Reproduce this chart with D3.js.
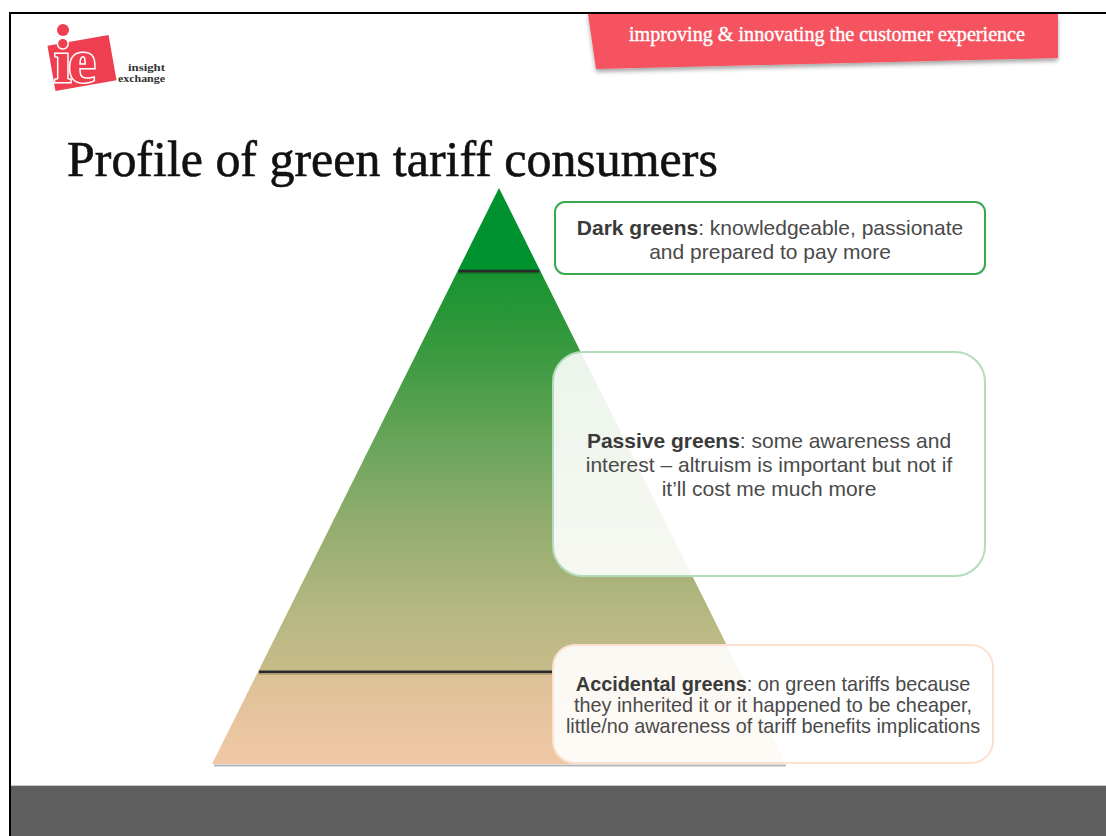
<!DOCTYPE html>
<html>
<head>
<meta charset="utf-8">
<script src="https://cdn.jsdelivr.net/npm/d3@7"></script>
<style>
  html, body { margin: 0; padding: 0; background: #fff; }
  svg { display: block; }
  .desc { fill: #4a4a4a; }
  .desc .lbl { font-weight: bold; fill: #3a3a3a; }
</style>
</head>
<body>
<svg id="slide" width="1106" height="836"></svg>
<script>
// tiers from the top of the pyramid down
const tiers = ["Dark greens", "Passive greens", "Accidental greens"];
const tierBounds = [0, 0.144, 0.84, 1];
const descLines = [
  [": knowledgeable, passionate", "and prepared to pay more"],
  [": some awareness and", "interest \u2013 altruism is important but not if", "it\u2019ll cost me much more"],
  [": on green tariffs because", "they inherited it or it happened to be cheaper,", "little/no awareness of tariff benefits implications"]
];
const gradStops = [
  [0, "#00922e"], [0.144, "#00922e"], [0.146, "#17932f"], [0.3, "#3e9b41"], [0.45, "#6ba55b"],
  [0.6, "#97ae70"], [0.75, "#b8b883"], [0.838, "#c7bc89"], [0.845, "#dcc196"], [1, "#f1c8a6"]
];
const title = "Profile of green tariff consumers";
const tagline = "improving & innovating the customer experience";

const svg = d3.select("#slide");
const defs = svg.append("defs");
const SANS = "'Liberation Sans', Arial, sans-serif", SERIF = "'Liberation Serif', Georgia, serif";

// fit a text node to a given width by changing its font size
const fitWidth = (sel, w) => {
  const fs = parseFloat(sel.attr("font-size"));
  sel.attr("font-size", fs * w / sel.node().getComputedTextLength());
};

// frame + footer
svg.append("rect").attr("x", 11).attr("y", 786).attr("width", 1095).attr("height", 50).attr("fill", "#5e5e5e");
svg.append("line").attr("x1", 11).attr("x2", 1106).attr("y1", 785.5).attr("y2", 785.5).attr("stroke", "#c8c8c8");
svg.append("path").attr("d", "M10,836V13H1106").attr("fill", "none").attr("stroke", "#000").attr("stroke-width", 2);

// banner
const shadow = defs.append("filter").attr("id", "bshadow").attr("x", "-5%").attr("y", "-30%").attr("width", "110%").attr("height", "170%");
shadow.append("feDropShadow").attr("dx", 0).attr("dy", 3).attr("stdDeviation", 2).attr("flood-color", "#000").attr("flood-opacity", 0.35);
svg.append("path").attr("d", "M588,14H1058V58L596,69Z").attr("fill", "#f5525e").attr("filter", "url(#bshadow)");
const tag = svg.append("text").attr("x", 827).attr("y", 41).attr("text-anchor", "middle").attr("fill", "#fff")
  .attr("stroke", "#fff").attr("stroke-width", 0.4).attr("font-family", SERIF).attr("font-size", 16).text(tagline);
fitWidth(tag, 396);

// logo
const logo = svg.append("g").attr("transform", "translate(48,24)");
logo.append("rect").attr("x", 3).attr("y", 16).attr("width", 62).attr("height", 46).attr("fill", "#ef3e4f")
  .attr("transform", "rotate(-10,34,39)");
logo.append("text").attr("x", 6).attr("y", 58).attr("font-family", SERIF).attr("font-weight", "bold")
  .attr("font-size", 62).attr("fill", "#ef3e4f").attr("stroke", "#fff").attr("stroke-width", 3).attr("paint-order", "stroke")
  .attr("letter-spacing", -3).text("ie");
logo.append("circle").attr("cx", 15).attr("cy", 6).attr("r", 6).attr("fill", "#ef3e4f");
logo.append("text").attr("x", 80).attr("y", 47).attr("font-family", SERIF).attr("font-size", 10)
  .attr("font-weight", "bold").attr("fill", "#333").attr("textLength", 37).attr("lengthAdjust", "spacingAndGlyphs").text("insight");
logo.append("text").attr("x", 70).attr("y", 58).attr("font-family", SERIF).attr("font-size", 10)
  .attr("font-weight", "bold").attr("fill", "#333").attr("textLength", 47).attr("lengthAdjust", "spacingAndGlyphs").text("exchange");

// title
const t = svg.append("text").attr("x", 67).attr("y", 176).attr("font-family", SERIF)
  .attr("font-size", 40).attr("fill", "#111").attr("stroke", "#111").attr("stroke-width", 0.6).text(title);
fitWidth(t, 651);

// pyramid
const y = d3.scaleLinear().domain([0, 1]).range([188, 764]);
const halfW = d3.scaleLinear().domain([0, 1]).range([0, 287]);
const cx = 499;
const grad = defs.append("linearGradient").attr("id", "pyr").attr("gradientUnits", "userSpaceOnUse")
  .attr("x1", 0).attr("x2", 0).attr("y1", y(0)).attr("y2", y(1));
grad.selectAll("stop").data(gradStops).join("stop").attr("offset", d => d[0]).attr("stop-color", d => d[1]);

svg.append("line").attr("x1", cx - halfW(1) + 2).attr("x2", cx + halfW(1)).attr("y1", y(1) + 1.5).attr("y2", y(1) + 1.5)
  .attr("stroke", "#9a9a9a").attr("stroke-width", 2).attr("opacity", 0.7);
svg.append("path").attr("fill", "url(#pyr)")
  .attr("d", d3.line()([[cx, y(0)], [cx + halfW(1), y(1)], [cx - halfW(1), y(1)]]) + "Z");

const dividers = tierBounds.slice(1, -1);
svg.selectAll("line.divs").data(dividers).join("line").attr("class", "divs")
  .attr("x1", d => cx - halfW(d) + 1).attr("x2", d => d > 0.5 ? 553 : cx + halfW(d) - 1)
  .attr("y1", d => y(d) + 1.5).attr("y2", d => y(d) + 1.5).attr("stroke", "#000").attr("stroke-opacity", 0.2).attr("stroke-width", 3);
svg.selectAll("line.div").data(dividers).join("line").attr("class", "div")
  .attr("x1", d => cx - halfW(d) + 1).attr("x2", d => d > 0.5 ? 553 : cx + halfW(d) - 1)
  .attr("y1", d => y(d)).attr("y2", d => y(d)).attr("stroke", "#2a2a2a").attr("stroke-width", 2.5);

// description boxes
const boxes = [
  {x: 555, y: 202, w: 430, h: 72, r: 10, stroke: "#3aa84e", op: 1, cx: 770, base: 235, lh: 23.5, fs: 21, sx: 1},
  {x: 553, y: 352, w: 432, h: 224, r: 30, stroke: "#b3dcbb", op: 0.9, cx: 769, base: 448, lh: 24, fs: 21, sx: 1},
  {x: 553, y: 645, w: 440, h: 118, r: 22, stroke: "#fbe1d2", op: 0.9, cx: 773, base: 691, lh: 21, fs: 21, sx: 0.945}
];
const bx = svg.selectAll("g.box").data(tiers).join("g").attr("class", "box");
bx.append("rect").attr("x", (d, i) => boxes[i].x).attr("y", (d, i) => boxes[i].y).attr("width", (d, i) => boxes[i].w)
  .attr("height", (d, i) => boxes[i].h).attr("rx", (d, i) => boxes[i].r).attr("fill", "#fff")
  .attr("fill-opacity", (d, i) => boxes[i].op).attr("stroke", (d, i) => boxes[i].stroke).attr("stroke-width", 2);
bx.each(function(name, i) {
  const b = boxes[i];
  const txt = d3.select(this).append("g").attr("transform", `translate(${b.cx},0) scale(${b.sx},1)`)
    .append("text").attr("class", "desc").attr("text-anchor", "middle").attr("font-family", SANS).attr("font-size", b.fs);
  descLines[i].forEach((ln, j) => {
    if (j === 0) {
      const first = txt.append("tspan").attr("x", 0).attr("y", b.base);
      first.append("tspan").attr("class", "lbl").text(name);
      first.append("tspan").text(ln);
    } else txt.append("tspan").attr("x", 0).attr("y", b.base + j * b.lh).text(ln);
  });
});
</script>
</body>
</html>
